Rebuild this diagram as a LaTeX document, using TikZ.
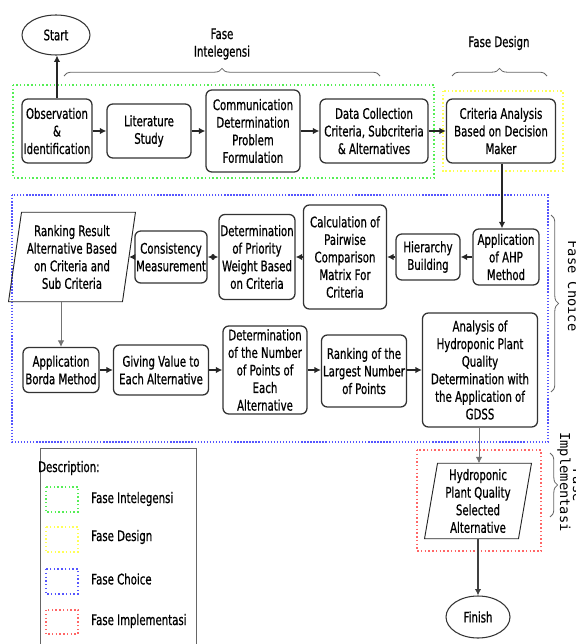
\documentclass[tikz,border=0pt]{standalone}
\usepackage{fontspec}
\setmainfont{DejaVu Sans}[FakeStretch=0.70, FakeBold=0.7]
\newfontfamily\monofnt{DejaVu Sans Mono}
\usetikzlibrary{arrows.meta,shapes.geometric,calc,decorations.pathreplacing}
\newdimen\pxu \pxu=0.03cm
\newcommand\boxfont{\fontsize{12.4pt}{15pt}\selectfont}
\definecolor{fgreen}{HTML}{55EE55}
\definecolor{fyellow}{HTML}{FFFF55}
\definecolor{fblue}{HTML}{5555FF}
\definecolor{fred}{HTML}{FF6666}
\begin{document}
\begin{tikzpicture}[x=0.03cm, y=-0.03cm,
  box/.style={draw=black!80, line width=1.1pt, rounded corners=5pt, align=center, inner sep=1pt, font=\boxfont},
  txt/.style={align=center, inner sep=1pt, font=\boxfont},
  oval/.style={ellipse, draw=black!80, line width=0.9pt, inner sep=0pt, font=\boxfont},
  para/.style={draw=black!85, line width=0.8pt},
  arr/.style={-{Latex[length=5.5pt,width=5.5pt]}, line width=1pt, draw=black!85},
  darr/.style={{Latex[length=5.5pt,width=5.5pt]}-{Latex[length=5.5pt,width=5.5pt]}, line width=1pt, draw=black!85},
  garr/.style={-{Latex[length=5.5pt,width=5.5pt]}, line width=0.6pt, draw=black!55},
  phase/.style={line width=1.2pt, dash pattern=on 1.2pt off 2pt},
  bphase/.style={line width=1.2pt, dash pattern=on 1.2pt off 1.4pt},
  brc/.style={decorate, decoration={brace, amplitude=6.5pt}, draw=black!60, line width=0.7pt},
  rot/.style={rotate=-90, anchor=base, inner sep=0pt, font=\monofnt\fontsize{11.7pt}{14pt}\selectfont}
]
\useasboundingbox (0,0) rectangle (575,644);

% phase frames
\draw[phase, fgreen] (13,85) rectangle (434,178);
\draw[phase, fyellow] (443,91) rectangle (563,171);
\draw[bphase, fblue] (12,195) rectangle (548,442);
\draw[phase, fred] (417,450) rectangle (541,551);

% top row
\node[oval, minimum width=68\pxu, minimum height=40\pxu] (start) at (56,35) {Start};
\node[box, minimum width=70\pxu, minimum height=64\pxu] (obs) at (57,131) {Observation\\\&\\Identification};
\node[box, minimum width=84\pxu, minimum height=54\pxu] (lit) at (149,131) {Literature\\Study};
\node[box, minimum width=94\pxu, minimum height=82\pxu] (comm) at (253,131) {Communication\\Determination\\Problem\\Formulation};
\node[box, minimum width=108\pxu, minimum height=64\pxu] (data) at (374,131) {Data Collection\\Criteria, Subcriteria\\\& Alternatives};
\node[box, minimum width=109\pxu, minimum height=64\pxu] (crit) at (501,131) {Criteria Analysis\\Based on Decision\\Maker};

% middle row
\node[box, minimum width=66\pxu, minimum height=56\pxu] (ahp) at (506,257) {Application\\of AHP\\Method};
\node[box, minimum width=64\pxu, minimum height=46\pxu] (hier) at (428,257) {Hierarchy\\Building};
\node[box, minimum width=83\pxu, minimum height=104\pxu] (calc) at (345,257) {Calculation of\\Pairwise\\Comparison\\Matrix For\\Criteria};
\node[box, minimum width=76\pxu, minimum height=85\pxu] (prio) at (257,257) {Determination\\of Priority\\Weight Based\\on Criteria};
\node[box, minimum width=71\pxu, minimum height=52\pxu] (cons) at (171,257) {Consistency\\Measurement};
\node[txt, minimum width=113.5\pxu, minimum height=89\pxu] (rank) at (72,257) {Ranking Result\\Alternative Based\\on Criteria and\\Sub Criteria};
\draw[para] ($(rank.north west)+(6.5,0)$) -- ($(rank.north east)+(6.5,0)$) -- ($(rank.south east)+(-6.5,0)$) -- ($(rank.south west)+(-6.5,0)$) -- cycle;

% bottom row
\node[box, minimum width=76\pxu, minimum height=45\pxu] (borda) at (61,370) {Application\\Borda Method};
\node[box, minimum width=95\pxu, minimum height=50\pxu] (give) at (161,370) {Giving Value to\\Each Alternative};
\node[box, minimum width=84\pxu, minimum height=88\pxu] (num) at (265,370) {Determination\\of the Number\\of Points of\\Each\\Alternative};
\node[box, minimum width=85\pxu, minimum height=72\pxu] (larg) at (364,371) {Ranking of the\\Largest Number\\of Points};
\node[box, minimum width=115\pxu, minimum height=114\pxu] (anal) at (480,370) {Analysis of\\Hydroponic Plant\\Quality\\Determination with\\the Application of\\GDSS};

% implementation
\node[txt, minimum width=93.5\pxu, minimum height=75\pxu] (hydro) at (478,501) {Hydroponic\\Plant Quality\\Selected\\Alternative};
\draw[para] ($(hydro.north west)+(6.5,0)$) -- ($(hydro.north east)+(6.5,0)$) -- ($(hydro.south east)+(-6.5,0)$) -- ($(hydro.south west)+(-6.5,0)$) -- cycle;
\node[oval, minimum width=64\pxu, minimum height=42\pxu] (finish) at (478,617) {Finish};

% connectors
\draw[arr] (obs.north) -- (obs.north |- start.south);
\draw[arr] (obs.east) -- (lit.west);
\draw[arr] (lit.east) -- (comm.west);
\draw[arr] (comm.east) -- (data.west);
\draw[arr] (data.east) -- (crit.west);
\coordinate (cdown) at (502,0);
\draw[arr] (cdown |- crit.south) -- (cdown |- ahp.north);
\draw[arr] (ahp.west) -- (hier.east);
\draw[arr] (hier.west) -- (calc.east);
\draw[arr] (calc.west) -- (prio.east);
\draw[darr] (prio.west) -- (cons.east);
\draw[arr] (cons.west) -- (rank.east);
\draw[garr] (rank.south -| borda.north) -- (borda.north);
\draw[arr] (borda.east) -- (give.west);
\draw[arr] (give.east) -- (num.west);
\draw[arr] (num.east) -- (num.east -| larg.west);
\draw[arr] (anal.west -| larg.east) -- (anal.west);
\coordinate (adown) at (479,0);
\draw[garr] (adown |- anal.south) -- (adown |- hydro.north);
\draw[arr, draw=black!75] (hydro.south) -- (finish.north);

% braces and phase labels
\draw[brc] (64,76) -- (380,76);
\node[txt] (lint) at (222,44) {Fase\\Intelegensi};
\draw[brc] (452,76) -- (547,76);
\node[txt] (ldes) at (499,43) {Fase Design};
\draw[brc] (551,215) -- (551,392);
\node[rot] (lcho) at (568,286) {Fase Choice};
\draw[brc] (550,453) -- (550,517);
\node[rot] (limp) at (560,482) {Implementasi};
\node[rot] (limf) at (573,485) {Fase};

% legend
\draw[black!60, line width=0.8pt] (40,448) rectangle (196,650);
\node[txt, anchor=west, inner sep=0pt] (ldesc) at (38,468) {Description:};
\draw[phase, fgreen] (46,487) rectangle (78,512);
\draw[phase, fyellow] (46,527) rectangle (78,552);
\draw[phase, fblue] (46,569) rectangle (78,594);
\draw[phase, fred] (46,610) rectangle (78,634);
\node[txt, anchor=west, inner sep=0pt] (lg1) at (91,499) {Fase Intelegensi};
\node[txt, anchor=west, inner sep=0pt] (lg2) at (91,537) {Fase Design};
\node[txt, anchor=west, inner sep=0pt] (lg3) at (91,579) {Fase Choice};
\node[txt, anchor=west, inner sep=0pt] (lg4) at (91,621) {Fase Implementasi};
\end{tikzpicture}
\end{document}
